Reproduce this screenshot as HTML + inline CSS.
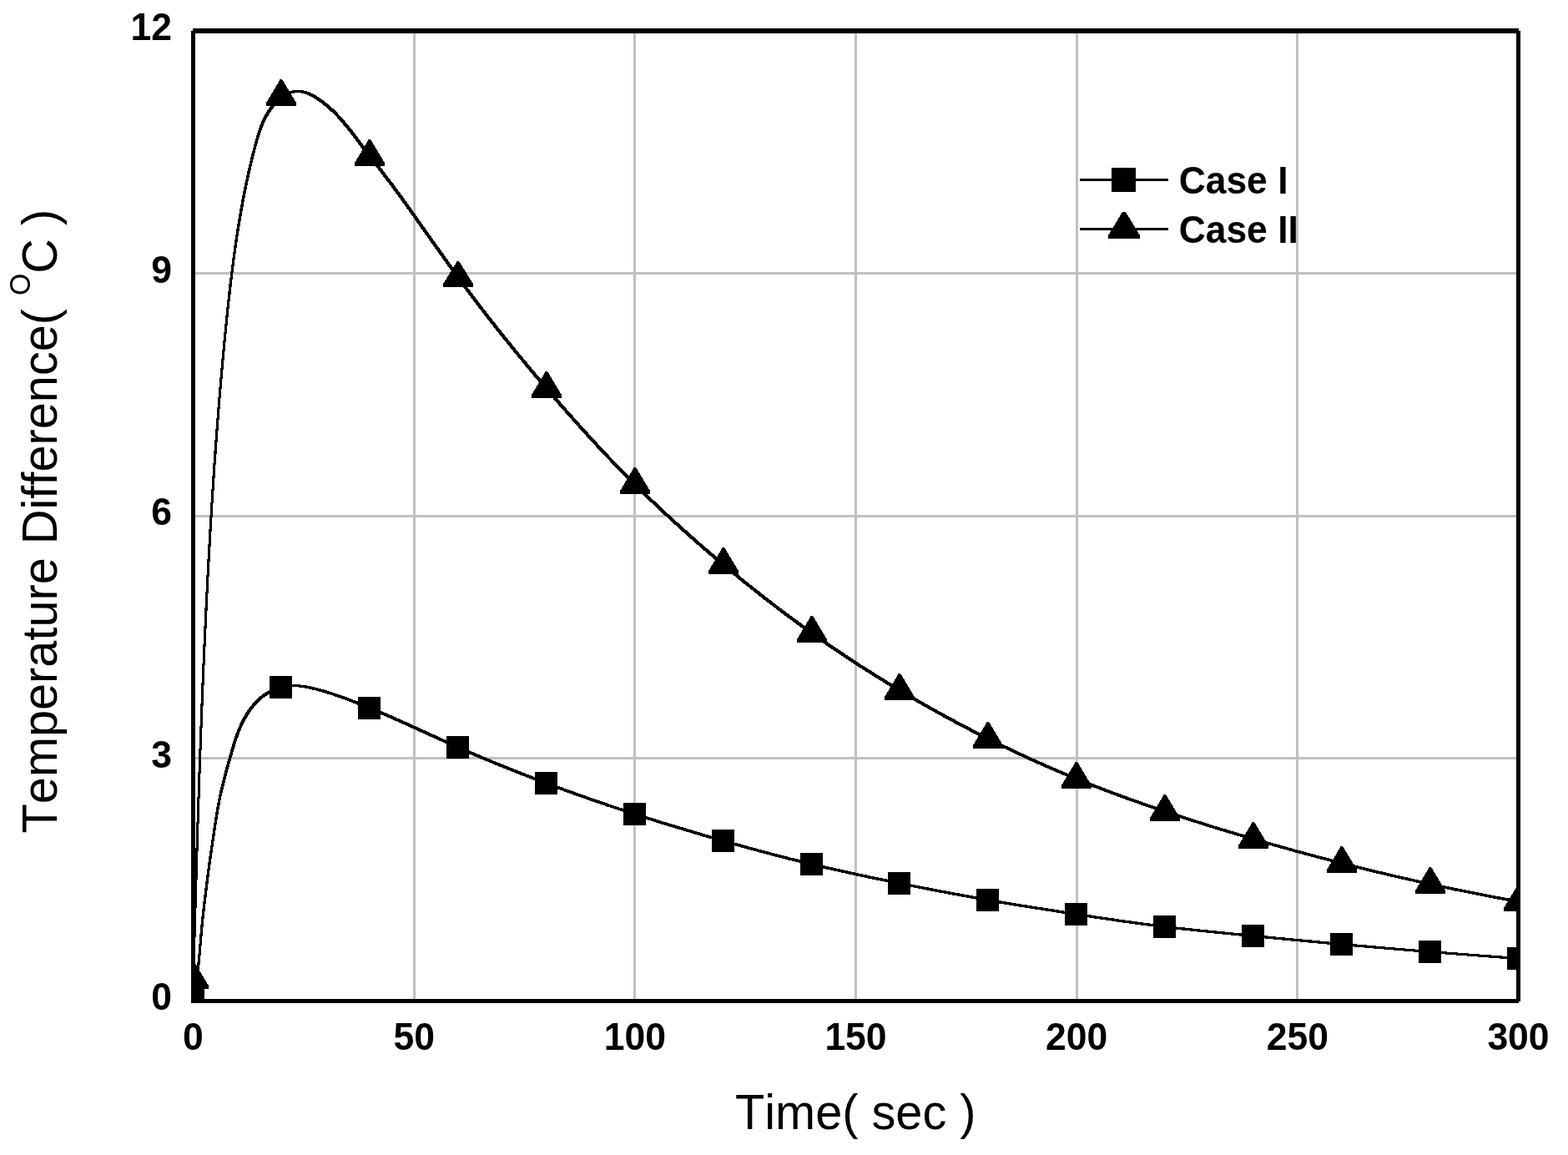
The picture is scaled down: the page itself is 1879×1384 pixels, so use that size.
<!DOCTYPE html>
<html lang="en">
<head>
<meta charset="utf-8">
<title>Temperature Difference vs Time</title>
<style>
html,body{margin:0;padding:0;background:#fff;}
body{width:1879px;height:1384px;overflow:hidden;}
svg{display:block;}
text{font-family:"Liberation Sans",Arial,Helvetica,sans-serif;fill:#000;font-kerning:none;}
.tk{font-weight:bold;font-size:44.5px;}
.ttl{font-size:57.7px;}
.lg{font-weight:bold;font-size:44.4px;}
</style>
</head>
<body>
<svg width="1879" height="1384" viewBox="0 0 1879 1384">
<rect x="0" y="0" width="1879" height="1384" fill="#ffffff"/>
<defs><clipPath id="plot"><rect x="229" y="34" width="1593" height="1168"/></clipPath></defs>
<g fill="#c0c0c0" shape-rendering="crispEdges">
<rect x="495" y="40" width="3" height="1157"/>
<rect x="759" y="40" width="3" height="1157"/>
<rect x="1024" y="40" width="3" height="1157"/>
<rect x="1289" y="40" width="3" height="1157"/>
<rect x="1553" y="40" width="3" height="1157"/>
<rect x="234" y="326" width="1583" height="3"/>
<rect x="234" y="617" width="1583" height="3"/>
<rect x="234" y="907" width="1583" height="3"/>
</g>
<g clip-path="url(#plot)" fill="#000" shape-rendering="crispEdges">
<path d="M230 1198L231.5 1190.9L232.9 1182.9L234.1 1174.5L235.3 1165.3L236.9 1149.7L239.5 1119.2L240.9 1103.8L243 1084.2L245.5 1063.7L247.9 1045.2L250.7 1024.9L254.3 1000.2L257.4 979.8L259.4 967.6L261.3 957.5L263.8 946.2L265.8 937.7L268.5 926.7L271.8 914.7L275.5 901.6L279.2 889.2L282.2 880.2L285 873L288 866.2L291.2 859.8L294.8 853.9L298.5 848.4L300.8 845.5L302.8 843.1L307 838.5L309.2 836.4L311.5 834.4L314 832.4L316 830.9L318.5 829.3L321 827.8L325.8 825.5L328.5 824.3L331.5 823.3L334.2 822.5L337.2 821.7L340.2 821.1L343.2 820.7L348.8 820.3L355.8 820.3L361.8 820.6L368 821.5L375.2 823L384.5 825.3L394.2 828.1L404.2 831.4L415.8 835.5L425.5 839.3L438 844.3L455.2 851.4L466 855.9L487 865.2L534.5 886.9L555.5 896.2L577 905.5L603 916.3L619 922.7L635 928.9L651 935L667 941L683 946.9L703.5 954.2L720 959.9L736 965.4L767.5 975.7L783.5 980.8L804.5 987.3L841.5 998.4L862.5 1004.4L883.5 1010.4L915.5 1019.2L947.5 1027.5L963.5 1031.5L979 1035.2L1011 1042.5L1032 1047.1L1053 1051.5L1100.5 1061.2L1143 1069.3L1180.5 1076.1L1201.5 1079.7L1228 1084.1L1291.5 1094L1323 1098.8L1344 1101.9L1365.5 1104.9L1381.5 1107L1397.5 1109L1413 1110.8L1450.5 1114.8L1540.5 1123.6L1604 1129.5L1656.5 1134.2L1709.5 1138.6L1762.5 1142.7L1820.5 1147L1820.5 1150L1817.5 1150L1791.5 1148.1L1717.5 1142.4L1659 1137.6L1606 1133L1542.5 1127.1L1447.5 1117.8L1410.5 1113.9L1394.5 1112L1378.5 1110L1362.5 1107.9L1341 1104.9L1320 1101.8L1288.5 1097L1225 1087.1L1198.5 1082.7L1177.5 1079.1L1140 1072.3L1097.5 1064.1L1050 1054.5L1029 1050.1L1007.5 1045.4L976 1038.2L960.5 1034.5L944.5 1030.5L912.5 1022.1L896.5 1017.8L875.5 1012L854.5 1006L833.5 999.9L796.5 988.8L775.5 982.2L759.5 977.1L727.5 966.5L695.5 955.4L679.5 949.7L659 942.1L642.5 935.9L627 929.9L611 923.7L595.5 917.4L569 906.4L547.5 897L526.5 887.6L484 868.2L463 858.9L452.2 854.3L436.8 848L425.2 843.3L415.8 839.6L405.2 835.8L396.2 832.7L387.2 829.9L378.2 827.4L370.2 825.5L364 824.3L357.8 823.5L353.8 823.3L351.8 823.3L346.2 823.7L343.2 824.1L340.2 824.7L337.2 825.4L334.5 826.3L329.5 828.1L324.8 830.4L322.2 831.8L319.8 833.4L317.2 835.2L315.2 836.7L313 838.6L310.8 840.7L306.5 845.2L304.2 847.8L302 850.7L298.2 856L294.8 861.8L291.5 868L288.5 874.7L285.8 881.7L282.8 890.5L279.8 900.2L275.8 914L272.5 925.8L269.8 936.4L267.2 946.8L265.2 955.9L263.5 964.6L261.6 975.4L258.6 994.1L253.8 1026.8L250.4 1051.5L247.6 1073.9L245.8 1089.3L244.1 1104.7L242.6 1120.9L239.4 1157.4L238.3 1168.3L237 1178.5L235.2 1190L233 1201L230 1201Z"/>
<rect x="218" y="1185" width="27" height="27"/>
<rect x="323" y="810" width="27" height="27"/>
<rect x="429" y="835" width="27" height="27"/>
<rect x="535" y="882" width="27" height="27"/>
<rect x="641" y="925" width="27" height="27"/>
<rect x="747" y="962" width="27" height="27"/>
<rect x="853" y="994" width="27" height="27"/>
<rect x="959" y="1022" width="27" height="27"/>
<rect x="1064" y="1045" width="27" height="27"/>
<rect x="1170" y="1065" width="27" height="27"/>
<rect x="1276" y="1082" width="27" height="27"/>
<rect x="1382" y="1097" width="27" height="27"/>
<rect x="1488" y="1108" width="27" height="27"/>
<rect x="1594" y="1118" width="27" height="27"/>
<rect x="1700" y="1127" width="27" height="27"/>
<rect x="1806" y="1135" width="27" height="27"/>
<path d="M230 1171.8L234.8 1006.9L236.9 943.2L238.9 886L241 829.9L243.3 776.6L245.6 726L248.1 678L250.8 628.9L253.7 582.6L256.6 539.1L259.9 495.5L262 469.5L267 413.1L270.8 375.1L274.2 343L277.8 314.5L281.2 289.2L283.2 276L285.2 263.6L289.2 240.9L291.5 229.2L294 217L296.5 205.4L299 194.6L301.8 183.3L304.8 171.6L306.8 164.5L309 157.3L311.2 151L313.2 146.1L315.2 141.7L317.5 137.3L319.8 133.5L322.5 129.3L325.5 125.3L328.5 121.9L330.5 119.8L334 116.6L336 115L338 113.6L340 112.3L342 111.2L344 110.3L346.5 109.3L348.8 108.7L350.8 108.3L353.2 108L358.5 107.9L361 108L363.5 108.4L366 108.9L368.2 109.6L370.5 110.4L372.8 111.3L375 112.4L379.2 114.9L383.5 117.6L387.5 120.4L391.2 123.3L395 126.5L398.8 129.8L403.8 134.7L407.2 138.3L412 143.6L416.8 149.3L422.8 156.8L443 183.7L455 198.8L460 205.3L471 219.8L481.5 234.1L492 248.7L529.5 301.7L540 316.4L550.5 330.9L561 345.2L577 366.3L587.5 379.9L603 399.5L619.5 419.9L640 444.6L656.5 464.1L677.5 488.3L698.5 511.9L714.5 529.4L730.5 546.5L746.5 563L762 578.7L778 594.3L794 609.5L809.5 623.8L825.5 638.2L841.5 652.3L857.5 666L878.5 683.5L894.5 696.6L915.5 713.2L931.5 725.6L947.5 737.6L963.5 749.4L979.5 760.8L995.5 771.9L1016 785.7L1032.5 796.5L1053.5 809.8L1074.5 822.7L1095.5 835.1L1117 847.4L1138 859L1159 870.2L1180.5 881.2L1201.5 891.6L1222.5 901.6L1244 911.5L1265 920.7L1286 929.6L1307 938L1328.5 946.3L1349.5 954.1L1376 963.5L1402.5 972.5L1429 981.2L1455.5 989.5L1487 999L1519 1008.4L1551 1017.4L1582.5 1025.9L1614 1034.1L1641 1040.8L1672.5 1048.3L1699 1054.3L1730.5 1061.1L1757.5 1066.7L1789 1072.9L1820.5 1078.7L1820.5 1081.8L1817.5 1081.7L1796.5 1077.9L1775.5 1073.9L1743.5 1067.5L1707 1059.7L1675 1052.5L1648 1046.2L1616.5 1038.4L1585 1030.3L1553 1021.7L1521.5 1012.9L1489.5 1003.6L1458 994.2L1426.5 984.3L1399.5 975.5L1373 966.5L1347 957.3L1325.5 949.3L1304.5 941.2L1283 932.5L1262 923.7L1241 914.5L1219.5 904.6L1198.5 894.6L1177.5 884.2L1156 873.2L1135 862L1114 850.4L1093 838.4L1071.5 825.6L1050.5 812.8L1029.5 799.5L1013 788.7L992.5 774.9L976.5 763.8L960.5 752.3L944 740.2L923.5 724.7L907.5 712.3L891.5 699.5L870.5 682.3L849.5 664.7L833.5 650.9L817.5 636.7L801.5 622.2L785.5 607.3L769.5 591.9L754 576.6L738 560.3L722 543.6L706 526.4L690 508.7L669 485L648 460.6L632 441.6L611 416.1L595 396.2L579.5 376.4L569 362.7L558 348.1L547.5 333.9L537 319.4L526.5 304.7L489 251.7L478.5 237.1L468 222.8L457.2 208.5L452 201.8L440.2 187L419.8 159.7L415.2 154L410.5 148.3L406 143.2L402.5 139.4L399 135.9L395.5 132.6L392 129.4L388.2 126.3L384.5 123.4L380.5 120.6L376.5 118L374.2 116.6L370 114.4L367.5 113.3L365.2 112.5L362.8 111.8L360.5 111.4L358.2 111.1L356.2 111L353.8 111.3L351.8 111.7L349.5 112.3L347 113.3L345 114.2L343 115.3L340.8 116.7L339 118L337 119.5L333.5 122.7L331.5 124.8L328.5 128.3L325.5 132.2L322.8 136.4L320.5 140.3L318.2 144.6L316.2 148.9L314.2 153.8L312.5 158.7L310.5 164.8L308.2 172.6L305.8 182.1L303 193.2L300.2 204.9L298 215L295.5 226.9L293.2 238.3L291 250.4L289 261.8L287 273.9L285 286.8L281.5 311.4L278 339.2L274.5 370.5L271 405.1L267.5 442.8L264.2 481L261.4 518L258.4 559.1L255.7 600.4L253.1 643.7L250.2 696.9L247.6 750.8L245 808.3L242.7 867.2L240.4 929.6L238.2 996.7L236 1071.1L233 1174.4L233 1174.8L230 1174.8Z"/>
<polygon points="230.8,1153 233.2,1153 250.2,1181.5 250.2,1185 213.8,1185 213.8,1181.5"/>
<polygon points="335.8,95 338.2,95 355.2,123.5 355.2,127 318.8,127 318.8,123.5"/>
<polygon points="441.8,167 444.2,167 461.2,195.5 461.2,199 424.8,199 424.8,195.5"/>
<polygon points="547.8,313 550.2,313 567.2,340.5 567.2,344 530.8,344 530.8,340.5"/>
<polygon points="653.8,445 656.2,445 673.2,473.5 673.2,477 636.8,477 636.8,473.5"/>
<polygon points="759.8,560 762.2,560 779.2,588.5 779.2,592 742.8,592 742.8,588.5"/>
<polygon points="865.8,656 868.2,656 885.2,684.5 885.2,688 848.8,688 848.8,684.5"/>
<polygon points="971.8,738 974.2,738 991.2,766.5 991.2,770 954.8,770 954.8,766.5"/>
<polygon points="1076.8,807 1079.2,807 1096.2,835.5 1096.2,839 1059.8,839 1059.8,835.5"/>
<polygon points="1182.8,865 1185.2,865 1202.2,893.5 1202.2,897 1165.8,897 1165.8,893.5"/>
<polygon points="1288.8,913 1291.2,913 1308.2,941.5 1308.2,945 1271.8,945 1271.8,941.5"/>
<polygon points="1394.8,952 1397.2,952 1414.2,980.5 1414.2,984 1377.8,984 1377.8,980.5"/>
<polygon points="1500.8,985 1503.2,985 1520.2,1013.5 1520.2,1017 1483.8,1017 1483.8,1013.5"/>
<polygon points="1606.8,1014 1609.2,1014 1626.2,1042.5 1626.2,1046 1589.8,1046 1589.8,1042.5"/>
<polygon points="1712.8,1039 1715.2,1039 1732.2,1067.5 1732.2,1071 1695.8,1071 1695.8,1067.5"/>
<polygon points="1818.8,1060 1821.2,1060 1838.2,1088.5 1838.2,1092 1801.8,1092 1801.8,1088.5"/>
</g>
<g fill="#000" shape-rendering="crispEdges">
<rect x="231" y="34" width="1589" height="6"/>
<rect x="230" y="1197" width="1590" height="5"/>
<rect x="229" y="37" width="5" height="1164"/>
<rect x="1817" y="37" width="5" height="1163"/>
</g>
<text class="tk" transform="translate(231.5 1257.6) scale(1 1.04)" text-anchor="middle">0</text>
<text class="tk" transform="translate(496.17 1257.6) scale(1 1.04)" text-anchor="middle">50</text>
<text class="tk" transform="translate(760.83 1257.6) scale(1 1.04)" text-anchor="middle">100</text>
<text class="tk" transform="translate(1025.49 1257.6) scale(1 1.04)" text-anchor="middle">150</text>
<text class="tk" transform="translate(1290.16 1257.6) scale(1 1.04)" text-anchor="middle">200</text>
<text class="tk" transform="translate(1554.83 1257.6) scale(1 1.04)" text-anchor="middle">250</text>
<text class="tk" transform="translate(1819.49 1257.6) scale(1 1.04)" text-anchor="middle">300</text>
<text class="tk" transform="translate(206 1210.4) scale(1 1.04)" text-anchor="end">0</text>
<text class="tk" transform="translate(206 919.77) scale(1 1.04)" text-anchor="end">3</text>
<text class="tk" transform="translate(206 629.15) scale(1 1.04)" text-anchor="end">6</text>
<text class="tk" transform="translate(206 338.52) scale(1 1.04)" text-anchor="end">9</text>
<text class="tk" transform="translate(206 47.9) scale(1 1.04)" text-anchor="end">12</text>
<text class="ttl" transform="translate(1025.3 1352.9) scale(1 1.04)" text-anchor="middle">Time( sec )</text>
<text class="ttl" transform="translate(68.3 624.6) rotate(-90) scale(1 1.04)" text-anchor="middle">Temperature Difference( <tspan font-size="33.8" dy="-30.7">O</tspan><tspan dy="30.7">C )</tspan></text>
<g fill="#000" shape-rendering="crispEdges">
<rect x="1294" y="214" width="106" height="3"/>
<rect x="1332" y="201" width="29" height="29"/>
<rect x="1294" y="273" width="106" height="3"/>
<polygon points="1345,254 1349,254 1366,282.3 1366,286 1328,286 1328,282.3"/>
</g>
<text class="lg" transform="translate(1412.7 232.05) scale(1 1.04)">Case I</text>
<text class="lg" transform="translate(1412.7 290.85) scale(1 1.04)">Case II</text>
</svg>
</body>
</html>
